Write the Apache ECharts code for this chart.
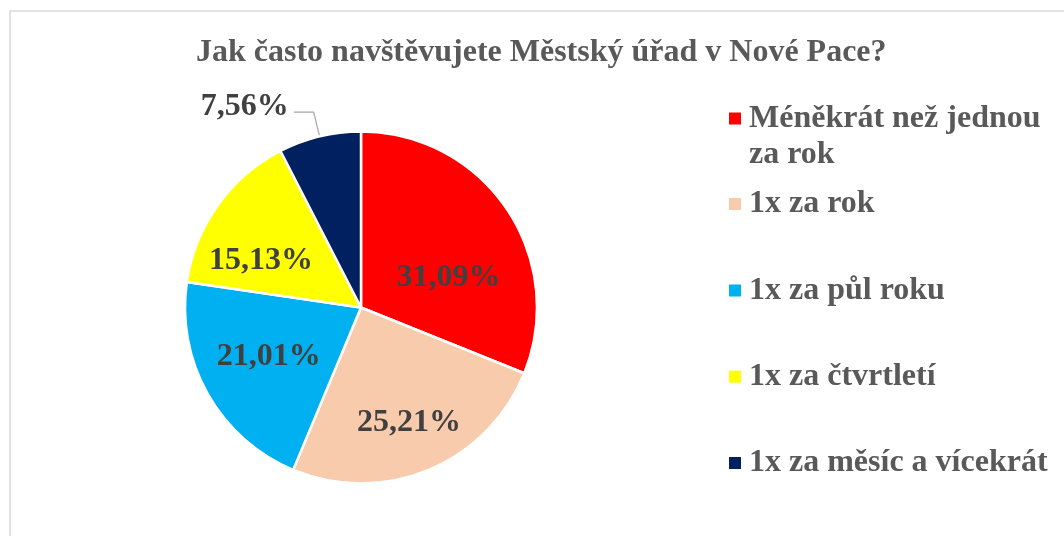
<!DOCTYPE html>
<html>
<head>
<meta charset="utf-8">
<script src="https://cdn.jsdelivr.net/npm/echarts@6/dist/echarts.min.js"></script>
<style>
  html, body { margin: 0; padding: 0; background: #fff; }
  #chart { width: 1064px; height: 536px; }
</style>
</head>
<body>
<div id="chart"></div>
<script>
// odpovedi (pocty respondentu, celkem 119)
const categories = [
  'Méněkrát než jednou za rok',
  '1x za rok',
  '1x za půl roku',
  '1x za čtvrtletí',
  '1x za měsíc a vícekrát'
]
const counts = [37, 30, 25, 18, 9]
const colors = ['#FF0000', '#F8CBAD', '#00B0F0', '#FFFF00', '#002060']

// posun popisku (jako v Excelu)
const labelShift = [[12, 21], [13, 31], [-13, 4], [-26, 6], [0, -5]]
// stred znacky legendy
const legendY = [118.5, 204, 290.5, 376.7, 463]

const font = '"Liberation Serif", "Times New Roman", serif'
const lh = 36

let txt = {
  fontFamily: font,
  fontWeight: 'bold',
  fontSize: 32,
  color: '#595959',
  lineHeight: lh
}

let legends = categories.map(function (name, i) {
  let first = i === 0
  return {
    data: [name],
    orient: 'vertical',
    left: 729,
    top: first ? legendY[i] - lh * 1.5 : legendY[i] - lh / 2,
    padding: 0,
    itemWidth: 12,
    itemHeight: 12,
    icon: 'rect',
    itemStyle: {borderWidth: 0},
    selectedMode: false,
    formatter: function (n) {
      // prvni polozka ma dva radky, znacka u prvniho radku
      return first ? '{s| }\n{t|Méněkrát než jednou}\n{t|za rok}' : '{t|' + n + '}'
    },
    textStyle: Object.assign({}, txt, {
      rich: {
        t: Object.assign({}, txt, {padding: [0, 0, 0, 3]}),
        s: Object.assign({}, txt)
      }
    })
  }
})

let option = {
  animation: false,
  backgroundColor: '#fff',
  color: colors,
  title: {
    text: 'Jak často navštěvujete Městský úřad v Nové Pace?',
    left: 196,
    top: 33,
    padding: 0,
    textStyle: {
      fontFamily: font,
      fontWeight: 'bold',
      fontSize: 32,
      lineHeight: 40,
      color: '#595959'
    }
  },
  legend: legends,
  graphic: [{
    type: 'rect',
    silent: true,
    shape: {x: 10, y: 11, width: 1200, height: 1000},
    style: {fill: 'none', stroke: '#d9d9d9', lineWidth: 1.5}
  }],
  series: [{
    type: 'pie',
    center: [361, 307.5],
    radius: 176,
    startAngle: 90,
    clockwise: true,
    percentPrecision: 2,
    itemStyle: {
      borderColor: '#fff',
      borderWidth: 2.5
    },
    label: {
      position: 'inside',
      fontFamily: font,
      fontWeight: 'bold',
      fontSize: 32,
      color: '#404040',
      formatter: function (p) {
        return p.percent.toFixed(2).replace('.', ',') + '%'
      }
    },
    labelLine: {
      show: true,
      length: 25,
      length2: 20,
      lineStyle: {color: '#a6a6a6', width: 1.2}
    },
    labelLayout: function (params) {
      let s = labelShift[params.dataIndex]
      return {dx: s[0], dy: s[1]}
    },
    emphasis: {disabled: true},
    data: categories.map(function (name, i) {
      let item = {name: name, value: counts[i]}
      // nejmensi vysec ma popisek venku
      if (i === counts.length - 1) {
        item.label = {position: 'outside', distanceToLabelLine: 5}
      }
      return item
    })
  }]
}

let chart = echarts.init(document.getElementById('chart'))
chart.setOption(option)
</script>
</body>
</html>
